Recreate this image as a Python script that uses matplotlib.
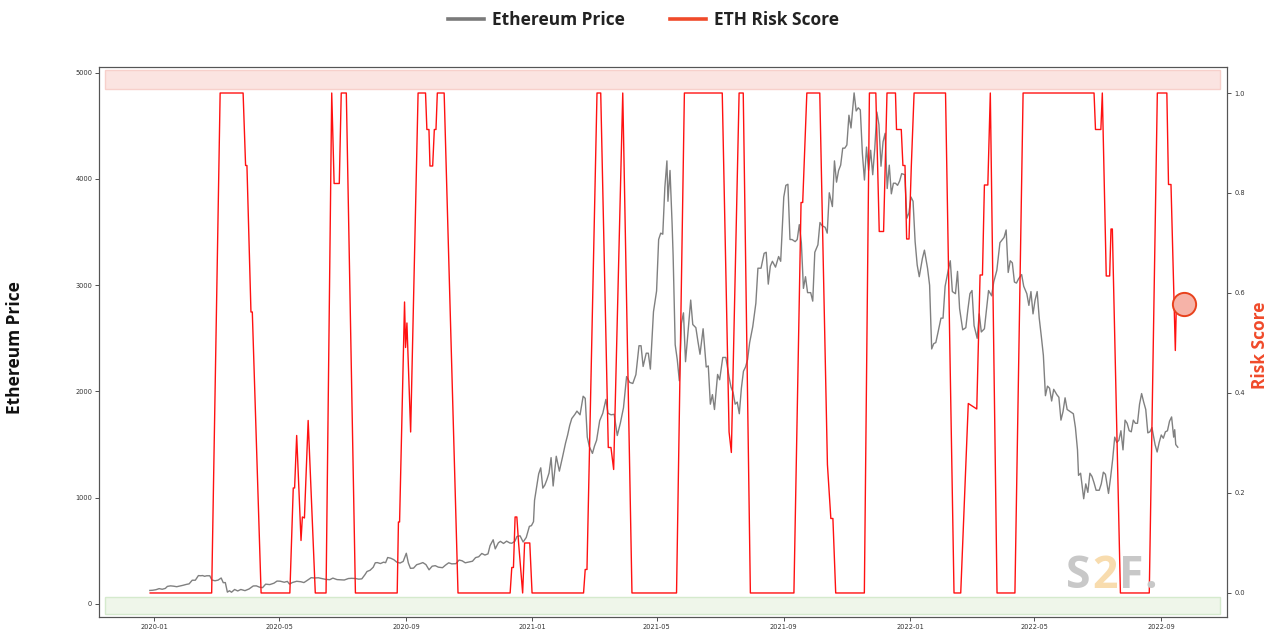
import matplotlib
matplotlib.use('Agg')
import matplotlib.pyplot as plt
from matplotlib.lines import Line2D
from matplotlib.font_manager import FontProperties
import pandas as pd

# ---------------- data ----------------
price_dates = [
    '2019-12-28', '2019-12-31', '2020-01-03', '2020-01-06', '2020-01-09', '2020-01-12', '2020-01-14',
    '2020-01-17', '2020-01-20', '2020-01-23', '2020-01-26', '2020-01-29', '2020-02-01', '2020-02-04',
    '2020-02-07', '2020-02-10', '2020-02-13', '2020-02-15', '2020-02-17', '2020-02-19', '2020-02-21',
    '2020-02-24', '2020-02-26', '2020-02-29', '2020-03-03', '2020-03-06', '2020-03-08', '2020-03-10',
    '2020-03-12', '2020-03-14', '2020-03-16', '2020-03-19', '2020-03-22', '2020-03-25', '2020-03-29',
    '2020-04-02', '2020-04-06', '2020-04-09', '2020-04-12', '2020-04-15', '2020-04-18', '2020-04-22',
    '2020-04-26', '2020-04-29', '2020-05-02', '2020-05-06', '2020-05-09', '2020-05-11', '2020-05-14',
    '2020-05-18', '2020-05-22', '2020-05-25', '2020-05-28', '2020-06-01', '2020-06-04', '2020-06-08',
    '2020-06-12', '2020-06-15', '2020-06-19', '2020-06-22', '2020-06-26', '2020-06-29', '2020-07-03',
    '2020-07-07', '2020-07-10', '2020-07-14', '2020-07-17', '2020-07-20', '2020-07-23', '2020-07-25',
    '2020-07-28', '2020-07-31', '2020-08-02', '2020-08-04', '2020-08-07', '2020-08-10', '2020-08-12',
    '2020-08-14', '2020-08-17', '2020-08-20', '2020-08-23', '2020-08-26', '2020-08-29', '2020-09-01',
    '2020-09-03', '2020-09-05', '2020-09-08', '2020-09-11', '2020-09-14', '2020-09-17', '2020-09-20',
    '2020-09-23', '2020-09-26', '2020-09-29', '2020-10-02', '2020-10-06', '2020-10-09', '2020-10-12',
    '2020-10-15', '2020-10-19', '2020-10-22', '2020-10-25', '2020-10-28', '2020-11-01', '2020-11-04',
    '2020-11-07', '2020-11-10', '2020-11-13', '2020-11-16', '2020-11-19', '2020-11-21', '2020-11-24',
    '2020-11-26', '2020-11-29', '2020-12-01', '2020-12-04', '2020-12-07', '2020-12-10', '2020-12-12',
    '2020-12-15', '2020-12-17', '2020-12-20', '2020-12-23', '2020-12-26', '2020-12-29', '2020-12-31',
    '2021-01-02', '2021-01-03', '2021-01-05', '2021-01-07', '2021-01-09', '2021-01-11', '2021-01-13',
    '2021-01-15', '2021-01-17', '2021-01-19', '2021-01-21', '2021-01-24', '2021-01-27', '2021-01-30',
    '2021-02-02', '2021-02-04', '2021-02-06', '2021-02-08', '2021-02-11', '2021-02-13', '2021-02-16',
    '2021-02-19', '2021-02-21', '2021-02-23', '2021-02-25', '2021-02-28', '2021-03-02', '2021-03-04',
    '2021-03-07', '2021-03-10', '2021-03-13', '2021-03-15', '2021-03-18', '2021-03-21', '2021-03-24',
    '2021-03-27', '2021-03-30', '2021-04-02', '2021-04-05', '2021-04-08', '2021-04-11', '2021-04-14',
    '2021-04-16', '2021-04-18', '2021-04-21', '2021-04-23', '2021-04-25', '2021-04-28', '2021-05-01',
    '2021-05-03', '2021-05-05', '2021-05-07', '2021-05-09', '2021-05-11', '2021-05-12', '2021-05-14',
    '2021-05-16', '2021-05-17', '2021-05-19', '2021-05-21', '2021-05-23', '2021-05-25', '2021-05-27',
    '2021-05-29', '2021-06-01', '2021-06-03', '2021-06-05', '2021-06-08', '2021-06-10', '2021-06-12',
    '2021-06-15', '2021-06-18', '2021-06-20', '2021-06-22', '2021-06-24', '2021-06-26', '2021-06-29',
    '2021-07-01', '2021-07-04', '2021-07-07', '2021-07-10', '2021-07-12', '2021-07-14', '2021-07-16',
    '2021-07-18', '2021-07-20', '2021-07-22', '2021-07-24', '2021-07-26', '2021-07-28', '2021-07-30',
    '2021-08-02', '2021-08-05', '2021-08-07', '2021-08-10', '2021-08-13', '2021-08-15', '2021-08-17',
    '2021-08-19', '2021-08-21', '2021-08-24', '2021-08-27', '2021-08-29', '2021-09-01', '2021-09-03',
    '2021-09-05', '2021-09-07', '2021-09-09', '2021-09-12', '2021-09-14', '2021-09-16', '2021-09-18',
    '2021-09-20', '2021-09-22', '2021-09-24', '2021-09-27', '2021-09-29', '2021-10-01', '2021-10-04',
    '2021-10-06', '2021-10-08', '2021-10-11', '2021-10-13', '2021-10-15', '2021-10-18', '2021-10-20',
    '2021-10-22', '2021-10-24', '2021-10-26', '2021-10-28', '2021-10-30', '2021-11-01', '2021-11-03',
    '2021-11-05', '2021-11-08', '2021-11-10', '2021-11-12', '2021-11-14', '2021-11-16', '2021-11-18',
    '2021-11-20', '2021-11-22', '2021-11-24', '2021-11-26', '2021-11-28', '2021-11-30', '2021-12-02',
    '2021-12-04', '2021-12-06', '2021-12-08', '2021-12-10', '2021-12-12', '2021-12-14', '2021-12-16',
    '2021-12-18', '2021-12-20', '2021-12-22', '2021-12-24', '2021-12-27', '2021-12-29', '2021-12-31',
    '2022-01-02', '2022-01-04', '2022-01-06', '2022-01-08', '2022-01-10', '2022-01-13', '2022-01-15',
    '2022-01-18', '2022-01-20', '2022-01-22', '2022-01-24', '2022-01-26', '2022-01-28', '2022-01-31',
    '2022-02-02', '2022-02-04', '2022-02-07', '2022-02-09', '2022-02-11', '2022-02-14', '2022-02-16',
    '2022-02-18', '2022-02-21', '2022-02-24', '2022-02-26', '2022-02-28', '2022-03-02', '2022-03-04',
    '2022-03-07', '2022-03-09', '2022-03-11', '2022-03-14', '2022-03-16', '2022-03-18', '2022-03-21',
    '2022-03-23', '2022-03-26', '2022-03-29', '2022-04-02', '2022-04-04', '2022-04-06', '2022-04-08',
    '2022-04-10', '2022-04-12', '2022-04-14', '2022-04-16', '2022-04-19', '2022-04-21', '2022-04-24',
    '2022-04-26', '2022-04-28', '2022-04-30', '2022-05-02', '2022-05-04', '2022-05-06', '2022-05-08',
    '2022-05-10', '2022-05-12', '2022-05-14', '2022-05-16', '2022-05-18', '2022-05-20', '2022-05-23',
    '2022-05-25', '2022-05-27', '2022-05-29', '2022-05-31', '2022-06-02', '2022-06-05', '2022-06-08',
    '2022-06-10', '2022-06-12', '2022-06-13', '2022-06-15', '2022-06-18', '2022-06-20', '2022-06-22',
    '2022-06-24', '2022-06-26', '2022-06-28', '2022-06-30', '2022-07-03', '2022-07-05', '2022-07-07',
    '2022-07-09', '2022-07-12', '2022-07-14', '2022-07-16', '2022-07-18', '2022-07-20', '2022-07-22',
    '2022-07-24', '2022-07-26', '2022-07-28', '2022-07-30', '2022-08-01', '2022-08-03', '2022-08-05',
    '2022-08-07', '2022-08-09', '2022-08-11', '2022-08-13', '2022-08-15', '2022-08-17', '2022-08-19',
    '2022-08-21', '2022-08-23', '2022-08-26', '2022-08-28', '2022-08-30', '2022-09-01', '2022-09-03',
    '2022-09-05', '2022-09-07', '2022-09-09', '2022-09-11', '2022-09-13', '2022-09-14', '2022-09-15',
    '2022-09-17',
]
price_values = [
    127, 129, 134, 144, 138, 146, 165,
    170, 167, 162, 168, 175, 183, 189,
    223, 223, 267, 265, 267, 260, 265,
    265, 225, 218, 224, 244, 200, 201,
    111, 124, 110, 136, 122, 136, 125,
    141, 169, 170, 158, 153, 186, 182,
    195, 215, 214, 204, 212, 187, 202,
    213, 209, 201, 220, 247, 244, 246,
    237, 231, 228, 243, 229, 227, 225,
    239, 241, 239, 233, 236, 275, 305,
    317, 345, 387, 389, 380, 393, 388,
    437, 430, 416, 392, 385, 400, 477,
    385, 335, 337, 369, 378, 389, 370,
    321, 355, 360, 346, 341, 366, 387,
    377, 379, 413, 406, 387, 396, 402,
    436, 444, 475, 460, 471, 549, 604,
    518, 575, 589, 569, 591, 574, 571,
    590, 635, 641, 583, 626, 730, 737,
    774, 975, 1100, 1224, 1281, 1090, 1120,
    1171, 1232, 1377, 1110, 1390, 1250, 1380,
    1515, 1590, 1680, 1745, 1784, 1815, 1780,
    1955, 1935, 1570, 1480, 1417, 1487, 1540,
    1725, 1795, 1925, 1795, 1780, 1785, 1585,
    1703, 1846, 2140, 2085, 2075, 2158, 2430,
    2430, 2235, 2360, 2360, 2210, 2750, 2945,
    3430, 3490, 3480, 3920, 4170, 3790, 4080,
    3580, 3280, 2440, 2300, 2100, 2640, 2740,
    2280, 2630, 2860, 2630, 2600, 2470, 2350,
    2590, 2230, 2240, 1880, 1970, 1830, 2160,
    2110, 2320, 2320, 2140, 2040, 1990, 1880,
    1900, 1790, 2030, 2190, 2230, 2300, 2460,
    2610, 2830, 3160, 3160, 3300, 3310, 3010,
    3180, 3225, 3170, 3270, 3225, 3830, 3940,
    3950, 3430, 3430, 3410, 3430, 3570, 3400,
    2970, 3080, 2930, 2930, 2850, 3310, 3380,
    3590, 3560, 3545, 3490, 3870, 3740, 4170,
    3970, 4080, 4130, 4290, 4290, 4320, 4600,
    4480, 4810, 4640, 4670, 4650, 4240, 3990,
    4300, 4080, 4270, 4040, 4290, 4630, 4510,
    4120, 4350, 4430, 3910, 4130, 3860, 3960,
    3960, 3940, 3980, 4050, 4040, 3630, 3680,
    3830, 3790, 3410, 3190, 3080, 3250, 3330,
    3160, 3000, 2400, 2450, 2460, 2550, 2690,
    2690, 2990, 3140, 3230, 2940, 2920, 3130,
    2780, 2580, 2600, 2770, 2920, 2950, 2620,
    2500, 2730, 2560, 2590, 2770, 2950, 2900,
    3030, 3140, 3400, 3450, 3520, 3120, 3230,
    3210, 3030, 3020, 3060, 3100, 2990, 2920,
    2810, 2940, 2730, 2860, 2940, 2690, 2520,
    2340, 1960, 2050, 2030, 1910, 2020, 1970,
    1945, 1730, 1810, 1940, 1830, 1810, 1790,
    1660, 1450, 1210, 1230, 990, 1130, 1050,
    1230, 1200, 1140, 1070, 1070, 1130, 1240,
    1220, 1040, 1190, 1360, 1570, 1520, 1540,
    1630, 1450, 1730, 1700, 1630, 1620, 1730,
    1700, 1700, 1880, 1980, 1900, 1830, 1610,
    1620, 1660, 1500, 1430, 1520, 1590, 1560,
    1620, 1630, 1720, 1760, 1570, 1640, 1500,
    1475,
]

# risk score vertices: days after 2020-01-01, and score
risk_days = [
    -3.7, 55.8, 64.0, 86.2, 88.6, 89.9, 93.8, 95.1, 103.6, 131.4,
    134.7, 136.0, 138.0, 142.2, 143.5, 145.5, 149.1, 156.0, 166.4, 171.9,
    174.2, 179.2, 181.1, 186.0, 194.8, 235.2, 236.4, 237.5, 242.3, 243.3,
    244.6, 248.2, 255.4, 262.6, 263.9, 265.9, 266.9, 269.5, 271.1, 272.7,
    274.0, 280.6, 294.0, 344.4, 346.0, 347.6, 349.2, 350.9, 352.5, 356.5,
    358.4, 363.4, 365.6, 415.4, 417.0, 418.7, 428.4, 432.0, 439.3, 441.9,
    444.5, 453.3, 462.2, 505.3, 512.9, 549.5, 556.1, 558.3, 565.8, 569.8,
    576.7, 618.8, 625.7, 627.3, 631.3, 643.8, 651.2, 654.5, 656.5, 659.2,
    686.9, 691.8, 698.0, 701.3, 705.5, 708.8, 717.0, 718.0, 722.6, 724.2,
    726.2, 727.8, 730.1, 732.3, 735.0, 765.4, 773.6, 780.1, 787.4, 795.6,
    798.8, 801.1, 803.0, 806.3, 808.7, 815.2, 832.5, 840.4, 909.0, 910.4,
    915.6, 917.0, 920.8, 924.1, 925.4, 926.7, 934.5, 962.4, 970.2, 979.4,
    981.0, 983.4, 987.6, 988.6, 990.0,
]
risk_values = [
    0.0, 0.0, 1.0, 1.0, 0.855, 0.855, 0.562, 0.562, 0.0, 0.0,
    0.21, 0.21, 0.315, 0.105, 0.152, 0.15, 0.345, 0.0, 0.0, 1.0,
    0.819, 0.819, 1.0, 1.0, 0.0, 0.0, 0.142, 0.142, 0.582, 0.491,
    0.54, 0.322, 1.0, 1.0, 0.927, 0.927, 0.854, 0.854, 0.927, 0.927,
    1.0, 1.0, 0.0, 0.0, 0.051, 0.051, 0.152, 0.152, 0.102, 0.0,
    0.1, 0.1, 0.0, 0.0, 0.047, 0.047, 1.0, 1.0, 0.291, 0.291,
    0.247, 1.0, 0.0, 0.0, 1.0, 1.0, 0.322, 0.281, 1.0, 1.0,
    0.0, 0.0, 0.781, 0.781, 1.0, 1.0, 0.257, 0.149, 0.149, 0.0,
    0.0, 1.0, 1.0, 0.723, 0.723, 1.0, 1.0, 0.927, 0.927, 0.855,
    0.855, 0.708, 0.708, 0.853, 1.0, 1.0, 0.0, 0.0, 0.379, 0.368,
    0.636, 0.636, 0.816, 0.816, 1.0, 0.0, 0.0, 1.0, 1.0, 0.927,
    0.927, 1.0, 0.634, 0.634, 0.728, 0.728, 0.0, 0.0, 1.0, 1.0,
    0.817, 0.817, 0.485, 0.578, 0.578,
]

current_day = 996.0
current_risk = 0.578

x_tick_dates = ['2020-01-01', '2020-05-01', '2020-09-01', '2021-01-01', '2021-05-01',
                '2021-09-01', '2022-01-01', '2022-05-01', '2022-09-01']
x_tick_labels = ['2020-01', '2020-05', '2020-09', '2021-01', '2021-05',
                 '2021-09', '2022-01', '2022-05', '2022-09']
price_ticks = [0, 1000, 2000, 3000, 4000, 5000]
risk_ticks = [0.0, 0.2, 0.4, 0.6, 0.8, 1.0]

legend_labels = ['Ethereum Price', 'ETH Risk Score']

# ---------------- figure ----------------
base = pd.Timestamp('2020-01-01')
pdates = pd.to_datetime(price_dates)
rdates = base + pd.to_timedelta(risk_days, unit='D')

fig = plt.figure(figsize=(12.74, 6.29), dpi=100)
ax = fig.add_axes([0.0779, 0.0196, 0.8854, 0.8734])
ax.plot(pdates, price_values, color='#808080', lw=1.0, zorder=2)
ax.set_ylim(-120, 5051)
ax.set_xlim(base + pd.Timedelta(days=-52.9), base + pd.Timedelta(days=1037.8))
ax.set_yticks(price_ticks)
ax.set_yticklabels([str(v) for v in price_ticks])
ax.set_xticks(pd.to_datetime(x_tick_dates))
ax.set_xticklabels(x_tick_labels)

ax2 = ax.twinx()
ax2.set_ylim(-0.0474, 1.0514)
ax2.axhspan(1.008, 1.046, xmin=0.005, xmax=0.9935, facecolor='#fbe4e1',
            edgecolor='#f7d0cb', lw=1.0, zorder=0)
ax2.axhspan(-0.042, -0.0074, xmin=0.0055, xmax=0.9935, facecolor='#eff6ea',
            edgecolor='#d5eacd', lw=1.0, zorder=0)
ax2.plot(rdates, risk_values, color='#ff1111', lw=1.0, zorder=3)
ax2.scatter([base + pd.Timedelta(days=current_day)], [current_risk], s=280,
            facecolor='#f6b3a8', edgecolor='#e8421d', lw=1.4, zorder=5)
ax2.set_yticks(risk_ticks)
ax2.set_yticklabels([f'{v:.1f}' for v in risk_ticks])
ax2.set_xlim(ax.get_xlim())

for a in (ax, ax2):
    a.tick_params(labelsize=4.8, length=3, width=0.6, colors='#333333', pad=2)
    for s in a.spines.values():
        s.set_color('#555555')
        s.set_linewidth(0.8)

bold = dict(family='Open Sans', fontweight='bold')
fig.text(15 / 1274, 1 - 348 / 629, 'Ethereum Price', rotation=90, ha='center', va='center',
         fontsize=12.5, color='#111111', **bold)
fig.text(1260 / 1274, 1 - 345 / 629, 'Risk Score', rotation=90, ha='center', va='center',
         fontsize=12.5, color='#f04a2a', **bold)

handles = [Line2D([], [], color='#7a7a7a', lw=2.6), Line2D([], [], color='#f04a2a', lw=2.6)]
fig.legend(handles, legend_labels, loc='center', bbox_to_anchor=(0.505, 0.968), ncol=2,
           frameon=False, handlelength=2.1, handletextpad=0.45, columnspacing=2.6,
           prop=FontProperties(family='Open Sans', weight='bold', size=12.5),
           labelcolor='#222222')

# watermark (letters centred on their positions in the reference)
wm = [('S', 1078, '#c8c8c8'), ('2', 1105, '#f8dcae'), ('F', 1131, '#c8c8c8'), ('.', 1151, '#c8c8c8')]
for ch, px, col in wm:
    fig.text(px / 1274, 1 - 588 / 629, ch, fontsize=32, color=col, ha='center', va='baseline', **bold)

fig.savefig('out.png', dpi=100)
